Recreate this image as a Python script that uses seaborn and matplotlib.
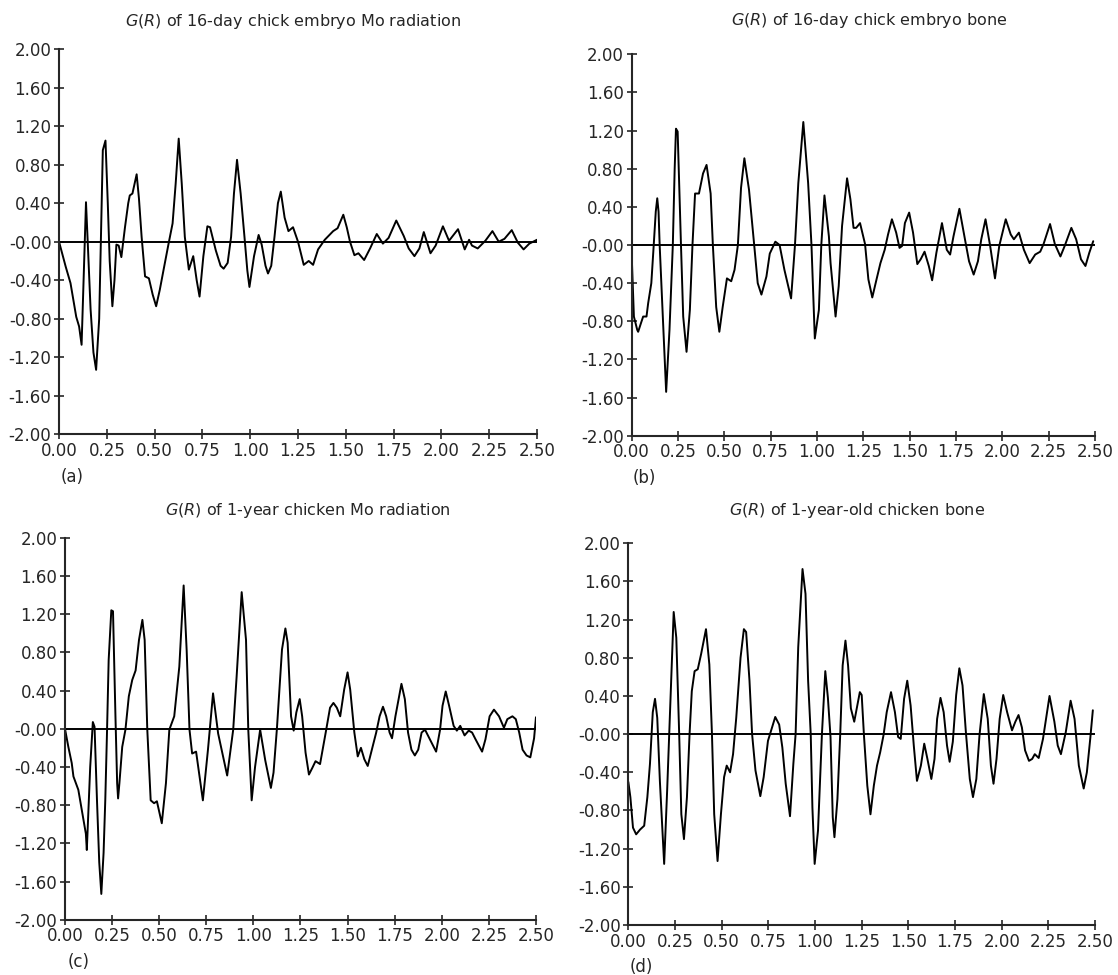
import pandas as pd
import numpy as np
import matplotlib
matplotlib.use('Agg')
import matplotlib.pyplot as plt
import seaborn as sns

# G(R) curves
r_a = [0.0, 0.035, 0.06, 0.09, 0.105, 0.118, 0.13, 0.141, 0.15, 0.165, 0.18, 0.194, 0.21, 0.222, 0.229, 0.243,
       0.255, 0.265, 0.279, 0.29, 0.30, 0.312, 0.326, 0.345, 0.362, 0.37, 0.384, 0.406, 0.418, 0.432, 0.45, 0.47,
       0.49, 0.508, 0.527, 0.547, 0.573, 0.594, 0.61, 0.626, 0.642, 0.658, 0.679, 0.702, 0.72, 0.735, 0.755, 0.776,
       0.79, 0.82, 0.845, 0.861, 0.882, 0.9, 0.915, 0.931, 0.95, 0.97, 0.985, 0.996, 1.02, 1.044, 1.06, 1.08,
       1.093, 1.11, 1.127, 1.145, 1.16, 1.18, 1.20, 1.224, 1.25, 1.28, 1.306, 1.329, 1.355, 1.39, 1.434, 1.457,
       1.487, 1.505, 1.522, 1.545, 1.566, 1.596, 1.627, 1.662, 1.694, 1.724, 1.764, 1.803, 1.829, 1.859, 1.885,
       1.908, 1.943, 1.97, 2.008, 2.04, 2.087, 2.122, 2.145, 2.16, 2.19, 2.23, 2.267, 2.30, 2.33, 2.368, 2.40,
       2.43, 2.46, 2.5]
g_a = [0.0, -0.26, -0.43, -0.78, -0.88, -1.07, -0.3, 0.41, 0.0, -0.7, -1.15, -1.33, -0.8, 0.3, 0.95, 1.05,
       0.4, -0.2, -0.67, -0.4, -0.03, -0.04, -0.16, 0.15, 0.40, 0.48, 0.50, 0.70, 0.45, 0.05, -0.36, -0.38,
       -0.55, -0.67, -0.5, -0.29, -0.02, 0.19, 0.6, 1.07, 0.6, 0.05, -0.29, -0.15, -0.4, -0.57, -0.15, 0.16,
       0.15, -0.09, -0.25, -0.28, -0.22, 0.05, 0.5, 0.85, 0.5, 0.05, -0.3, -0.47, -0.15, 0.07, -0.03, -0.25,
       -0.33, -0.25, 0.05, 0.40, 0.52, 0.25, 0.11, 0.15, 0.0, -0.24, -0.2, -0.24, -0.08, 0.02, 0.11, 0.14,
       0.28, 0.15, 0.0, -0.14, -0.12, -0.19, -0.07, 0.08, -0.02, 0.04, 0.22, 0.06, -0.07, -0.15, -0.07,
       0.10, -0.12, -0.04, 0.16, 0.01, 0.13, -0.08, 0.02, -0.04, -0.07, 0.01, 0.11, 0.0, 0.03, 0.12, -0.01,
       -0.08, -0.02, 0.02]

r_b = [0.0, 0.012, 0.03, 0.035, 0.05, 0.062, 0.08, 0.089, 0.106, 0.119, 0.13, 0.138, 0.145, 0.151, 0.168,
       0.186, 0.204, 0.222, 0.232, 0.239, 0.248, 0.266, 0.278, 0.296, 0.314, 0.328, 0.342, 0.363, 0.385, 0.404,
       0.426, 0.438, 0.456, 0.473, 0.491, 0.514, 0.537, 0.555, 0.573, 0.59, 0.608, 0.633, 0.661, 0.68, 0.7,
       0.727, 0.745, 0.775, 0.798, 0.824, 0.86, 0.881, 0.899, 0.926, 0.952, 0.97, 0.988, 1.01, 1.023, 1.04,
       1.064, 1.073, 1.1, 1.117, 1.135, 1.162, 1.18, 1.197, 1.211, 1.232, 1.259, 1.277, 1.298, 1.321, 1.342,
       1.365, 1.383, 1.404, 1.427, 1.445, 1.459, 1.474, 1.497, 1.518, 1.541, 1.559, 1.58, 1.603, 1.621, 1.644,
       1.674, 1.7, 1.718, 1.736, 1.768, 1.798, 1.82, 1.845, 1.868, 1.886, 1.909, 1.934, 1.96, 1.983, 2.018,
       2.045, 2.062, 2.089, 2.116, 2.147, 2.177, 2.204, 2.222, 2.257, 2.283, 2.313, 2.336, 2.372, 2.398,
       2.424, 2.448, 2.469, 2.49]
g_b = [-0.1, -0.75, -0.89, -0.91, -0.82, -0.75, -0.75, -0.61, -0.40, 0.0, 0.35, 0.49, 0.35, 0.0, -0.75,
       -1.54, -0.89, 0.0, 0.8, 1.22, 1.19, 0.0, -0.75, -1.12, -0.68, 0.0, 0.54, 0.54, 0.75, 0.84,
       0.54, 0.0, -0.65, -0.91, -0.65, -0.35, -0.38, -0.26, 0.0, 0.6, 0.91, 0.58, 0.0, -0.4, -0.52,
       -0.33, -0.09, 0.035, 0.0, -0.26, -0.56, 0.0, 0.65, 1.29, 0.65, 0.0, -0.98, -0.68, 0.0, 0.52,
       0.09, -0.19, -0.75, -0.43, 0.2, 0.70, 0.48, 0.18, 0.18, 0.23, 0.01, -0.36, -0.55, -0.36, -0.19,
       -0.05, 0.11, 0.27, 0.13, -0.03, -0.01, 0.23, 0.34, 0.13, -0.2, -0.15, -0.07, -0.22, -0.37, -0.08,
       0.23, -0.05, -0.1, 0.09, 0.38, 0.06, -0.17, -0.31, -0.17, 0.06, 0.27, -0.01, -0.35, -0.01, 0.27,
       0.11, 0.06, 0.13, -0.05, -0.19, -0.1, -0.07, 0.01, 0.22, 0.01, -0.12, -0.01, 0.18, 0.06,
       -0.15, -0.22, -0.08, 0.04]

r_c = [0.0, 0.018, 0.036, 0.045, 0.071, 0.089, 0.111, 0.116, 0.134, 0.148, 0.157, 0.17, 0.182, 0.193, 0.205,
       0.214, 0.223, 0.232, 0.246, 0.255, 0.268, 0.277, 0.282, 0.289, 0.304, 0.321, 0.339, 0.357, 0.375, 0.393,
       0.411, 0.423, 0.437, 0.455, 0.473, 0.488, 0.514, 0.536, 0.554, 0.58, 0.607, 0.63, 0.646, 0.661, 0.675,
       0.696, 0.732, 0.759, 0.786, 0.813, 0.861, 0.893, 0.911, 0.938, 0.961, 0.973, 0.991, 1.009, 1.036, 1.063,
       1.093, 1.107, 1.125, 1.152, 1.17, 1.182, 1.2, 1.214, 1.228, 1.246, 1.259, 1.277, 1.295, 1.313, 1.33,
       1.354, 1.384, 1.407, 1.425, 1.443, 1.461, 1.482, 1.5, 1.514, 1.536, 1.554, 1.571, 1.589, 1.607, 1.625,
       1.652, 1.67, 1.688, 1.705, 1.723, 1.736, 1.754, 1.786, 1.804, 1.821, 1.839, 1.857, 1.875, 1.893, 1.911,
       1.929, 1.97, 1.991, 2.004, 2.021, 2.039, 2.063, 2.08, 2.098, 2.121, 2.143, 2.161, 2.179, 2.214, 2.232,
       2.254, 2.277, 2.304, 2.33, 2.348, 2.375, 2.393, 2.411, 2.429, 2.45, 2.47, 2.49, 2.5]
g_c = [0.0, -0.19, -0.36, -0.5, -0.64, -0.85, -1.1, -1.27, -0.4, 0.07, 0.02, -0.75, -1.4, -1.73, -1.3,
       -0.75, -0.05, 0.72, 1.24, 1.23, 0.13, -0.57, -0.73, -0.57, -0.19, -0.01, 0.34, 0.51, 0.61, 0.93,
       1.14, 0.93, -0.01, -0.75, -0.78, -0.76, -0.99, -0.57, -0.01, 0.13, 0.65, 1.5, 0.82, -0.01, -0.26,
       -0.24, -0.75, -0.22, 0.37, -0.05, -0.49, -0.01, 0.54, 1.43, 0.93, -0.01, -0.75, -0.4, -0.01, -0.33,
       -0.62, -0.46, 0.0, 0.83, 1.05, 0.9, 0.13, -0.02, 0.17, 0.31, 0.13, -0.25, -0.48, -0.41, -0.34,
       -0.37, -0.04, 0.22, 0.27, 0.22, 0.13, 0.41, 0.59, 0.41, -0.04, -0.29, -0.2, -0.32, -0.39, -0.25,
       -0.04, 0.13, 0.23, 0.13, -0.04, -0.1, 0.13, 0.47, 0.31, -0.04, -0.22, -0.28, -0.22, -0.04, -0.01,
       -0.08, -0.24, -0.01, 0.24, 0.39, 0.24, 0.03, -0.02, 0.03, -0.07, -0.02, -0.04, -0.11, -0.24, -0.11,
       0.13, 0.2, 0.13, 0.01, 0.1, 0.13, 0.1, -0.04, -0.22, -0.28, -0.3, -0.1, 0.12]

r_d = [0.0, 0.011, 0.025, 0.042, 0.063, 0.085, 0.102, 0.116, 0.131, 0.143, 0.155, 0.169, 0.192, 0.208, 0.222,
       0.243, 0.257, 0.272, 0.284, 0.298, 0.314, 0.328, 0.34, 0.355, 0.372, 0.39, 0.416, 0.434, 0.448, 0.46,
       0.478, 0.496, 0.513, 0.527, 0.545, 0.561, 0.578, 0.601, 0.619, 0.631, 0.649, 0.663, 0.681, 0.707, 0.725,
       0.748, 0.787, 0.808, 0.825, 0.843, 0.866, 0.884, 0.896, 0.91, 0.933, 0.949, 0.963, 0.977, 0.986, 0.998,
       1.016, 1.037, 1.055, 1.069, 1.083, 1.095, 1.104, 1.12, 1.135, 1.148, 1.163, 1.177, 1.192, 1.21, 1.24,
       1.25, 1.262, 1.28, 1.297, 1.315, 1.332, 1.349, 1.367, 1.384, 1.407, 1.428, 1.445, 1.459, 1.477, 1.494,
       1.512, 1.529, 1.546, 1.567, 1.585, 1.602, 1.623, 1.64, 1.654, 1.672, 1.689, 1.707, 1.721, 1.738, 1.756,
       1.773, 1.79, 1.808, 1.829, 1.846, 1.864, 1.881, 1.904, 1.925, 1.942, 1.956, 1.972, 1.989, 2.008, 2.029,
       2.055, 2.073, 2.09, 2.108, 2.125, 2.146, 2.163, 2.177, 2.198, 2.221, 2.256, 2.282, 2.3, 2.317, 2.343,
       2.369, 2.39, 2.413, 2.439, 2.456, 2.474, 2.488]
g_d = [-0.5, -0.66, -0.98, -1.05, -1.0, -0.96, -0.66, -0.31, 0.23, 0.37, 0.17, -0.49, -1.36, -0.59, 0.17,
       1.28, 1.01, 0.03, -0.84, -1.1, -0.66, 0.0, 0.45, 0.66, 0.68, 0.84, 1.1, 0.73, 0.0, -0.84,
       -1.33, -0.84, -0.45, -0.33, -0.4, -0.21, 0.17, 0.8, 1.1, 1.07, 0.56, 0.0, -0.38, -0.65, -0.45,
       -0.07, 0.18, 0.1, -0.14, -0.52, -0.86, -0.31, 0.0, 0.91, 1.73, 1.47, 0.56, 0.0, -0.77, -1.36,
       -1.01, 0.0, 0.66, 0.38, -0.03, -0.87, -1.08, -0.68, 0.0, 0.72, 0.98, 0.72, 0.27, 0.13, 0.44,
       0.41, -0.01, -0.54, -0.84, -0.54, -0.33, -0.19, -0.01, 0.23, 0.44, 0.23, -0.03, -0.05, 0.37, 0.56,
       0.3, -0.12, -0.49, -0.33, -0.1, -0.26, -0.47, -0.26, 0.16, 0.38, 0.23, -0.12, -0.29, -0.08, 0.41,
       0.69, 0.51, 0.02, -0.47, -0.66, -0.47, -0.01, 0.42, 0.16, -0.33, -0.52, -0.26, 0.16, 0.41, 0.23,
       0.04, 0.13, 0.2, 0.07, -0.17, -0.28, -0.26, -0.21, -0.25, -0.05, 0.4, 0.13, -0.12, -0.21, 0.02,
       0.35, 0.16, -0.33, -0.57, -0.4, -0.05, 0.25]

titles = ['of 16-day chick embryo Mo radiation',
          'of 16-day chick embryo bone',
          'of 1-year chicken Mo radiation',
          'of 1-year-old chicken bone']
tags = ['(a)', '(b)', '(c)', '(d)']

y_ticks = [-2.0, -1.6, -1.2, -0.8, -0.4, 0.0, 0.4, 0.8, 1.2, 1.6, 2.0]
y_labels = ['-2.00', '-1.60', '-1.20', '-0.80', '-0.40', '-0.00', '0.40', '0.80', '1.20', '1.60', '2.00']
x_ticks = [0.0, 0.25, 0.5, 0.75, 1.0, 1.25, 1.5, 1.75, 2.0, 2.25, 2.5]
x_labels = ['0.00', '0.25', '0.50', '0.75', '1.00', '1.25', '1.50', '1.75', '2.00', '2.25', '2.50']

sns.set_style('ticks')
plt.rcParams['font.family'] = ['DejaVu Sans']
plt.rcParams['mathtext.fontset'] = 'dejavusans'

fig = plt.figure(figsize=(11.18, 9.75), dpi=100)

boxes = [[0.0528, 0.5545, 0.4275, 0.3952],
         [0.5650, 0.5531, 0.4145, 0.3912],
         [0.0581, 0.0567, 0.4213, 0.3918],
         [0.5620, 0.0513, 0.4175, 0.3915]]
title_pos = [(0.49, 1.072), (0.513, 1.088), (0.516, 1.072), (0.49, 1.085)]

data = [(r_a, g_a), (r_b, g_b), (r_c, g_c), (r_d, g_d)]

for i in range(4):
    ax = fig.add_axes(boxes[i])
    r, g = data[i]
    df = pd.DataFrame({'R': r, 'G': g})
    ax.axhline(0, color='black', lw=1.4, zorder=1)
    sns.lineplot(data=df, x='R', y='G', ax=ax, color='black', lw=1.4,
                 estimator=None, sort=False, zorder=2)
    ax.set_xlim(0, 2.5)
    ax.set_ylim(-2, 2)
    ax.set_xticks(x_ticks)
    ax.set_xticklabels(x_labels)
    ax.set_yticks(y_ticks)
    ax.set_yticklabels(y_labels)
    ax.set_xlabel('')
    ax.set_ylabel('')
    sns.despine(ax=ax)
    for s in ['left', 'bottom']:
        ax.spines[s].set_linewidth(1.5)
    ax.tick_params(direction='inout', length=7, width=1.2, labelsize=12, pad=2)
    ax.text(title_pos[i][0], title_pos[i][1], r'$G(R)$ ' + titles[i], transform=ax.transAxes,
            ha='center', va='center', fontsize=11.5)
    ax.text(0.028, -0.11, tags[i], transform=ax.transAxes, ha='center', va='center', fontsize=12)

plt.savefig('out.png', dpi=100)
